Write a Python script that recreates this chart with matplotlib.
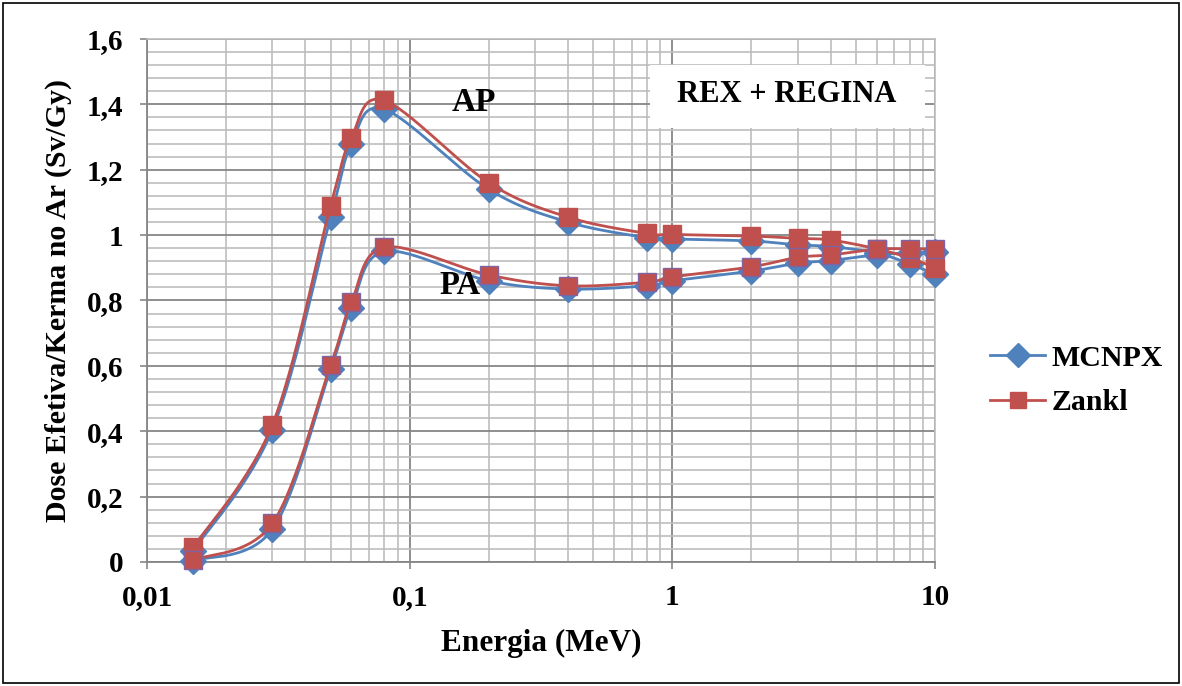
import numpy as np
import matplotlib
matplotlib.use("Agg")
import matplotlib.pyplot as plt
from matplotlib.ticker import FixedLocator, FuncFormatter, NullFormatter
from matplotlib.lines import Line2D
from matplotlib.patches import Rectangle

# Photon energies (MeV)
energy = [0.015, 0.03, 0.05, 0.06, 0.08, 0.2, 0.4, 0.8, 1, 2, 3, 4, 6, 8, 10]

# Effective dose / air kerma (Sv/Gy)
mcnpx_ap = [0.035, 0.405, 1.055, 1.278, 1.385, 1.140, 1.040, 0.992, 0.988,
            0.982, 0.970, 0.965, 0.945, 0.912, 0.880]
zankl_ap = [0.045, 0.420, 1.090, 1.298, 1.412, 1.160, 1.055, 1.005, 1.002,
            0.997, 0.990, 0.985, 0.958, 0.930, 0.900]
mcnpx_pa = [0.004, 0.100, 0.590, 0.778, 0.950, 0.860, 0.835, 0.845, 0.860,
            0.890, 0.914, 0.922, 0.940, 0.945, 0.948]
zankl_pa = [0.006, 0.118, 0.602, 0.795, 0.963, 0.878, 0.845, 0.856, 0.872,
            0.903, 0.932, 0.939, 0.957, 0.958, 0.958]

y_ticks = [0, 0.2, 0.4, 0.6, 0.8, 1.0, 1.2, 1.4, 1.6]
x_ticks = [0.01, 0.1, 1, 10]

BLUE = "#4F81BD"
RED = "#C0504D"
FONT = "Liberation Serif"


def smooth(x, y, n=30):
    """Bezier smoothing (Catmull-Rom control points) in log10(x)-y space."""
    lx = np.log10(np.asarray(x, float))
    yy = np.asarray(y, float)
    P = np.column_stack([lx, yy])
    m = len(P)
    out = []
    t = np.linspace(0, 1, n)[:, None]
    for i in range(m - 1):
        p0 = P[i - 1] if i > 0 else P[i]
        p1 = P[i]
        p2 = P[i + 1]
        p3 = P[i + 2] if i + 2 < m else P[i + 1]
        c1 = p1 + (p2 - p0) / 6.0
        c2 = p2 - (p3 - p1) / 6.0
        seg = ((1 - t) ** 3) * p1 + 3 * ((1 - t) ** 2) * t * c1 \
            + 3 * (1 - t) * t ** 2 * c2 + t ** 3 * p2
        out.append(seg if i == 0 else seg[1:])
    S = np.vstack(out)
    return 10 ** S[:, 0], S[:, 1]


def comma(v, pos):
    return f"{v:g}".replace(".", ",")


plt.rcParams["font.family"] = [FONT, "DejaVu Serif"]
plt.rcParams["font.weight"] = "bold"

fig = plt.figure(figsize=(11.82, 6.86), dpi=100)
fig.patch.set_facecolor("white")
fig.patches.append(Rectangle((0.0025, 0.004), 0.995, 0.992, transform=fig.transFigure,
                             fill=False, edgecolor="black", linewidth=1.2))

ax = fig.add_axes([0.1244, 0.1808, 0.6667, 0.7624])
ax.set_xscale("log")
ax.set_xlim(0.01, 10)
ax.set_ylim(0, 1.6)

# grid
ax.yaxis.set_major_locator(FixedLocator(y_ticks))
ax.yaxis.set_minor_locator(FixedLocator(np.arange(0, 1.6001, 0.04)))
ax.xaxis.set_major_locator(FixedLocator(x_ticks))
minors = [k * 10.0 ** d for d in (-2, -1, 0) for k in range(2, 10)]
ax.xaxis.set_minor_locator(FixedLocator(minors))
ax.xaxis.set_minor_formatter(NullFormatter())
ax.grid(which="major", color="#868686", linewidth=1.3)
ax.grid(which="minor", color="#BDBDBD", linewidth=1.2)
ax.set_axisbelow(True)

for side in ("top", "right"):
    ax.spines[side].set_color("#BDBDBD")
    ax.spines[side].set_linewidth(1.2)
for side in ("left", "bottom"):
    ax.spines[side].set_color("#868686")
    ax.spines[side].set_linewidth(1.3)

ax.tick_params(which="major", direction="out", length=5, color="#868686", width=1.2,
               labelsize=21)
ax.tick_params(axis="y", pad=12)
ax.tick_params(axis="x", pad=11)
ax.tick_params(which="minor", length=0)
ax.yaxis.set_major_formatter(FuncFormatter(comma))
ax.xaxis.set_major_formatter(FuncFormatter(comma))
for lab in ax.get_xticklabels() + ax.get_yticklabels():
    lab.set_fontweight("bold")

# curves
for yvals, col, mk, ms, z in ((mcnpx_ap, BLUE, "D", 13, 3), (mcnpx_pa, BLUE, "D", 13, 3),
                              (zankl_ap, RED, "s", 12.5, 4), (zankl_pa, RED, "s", 12.5, 4)):
    sx, sy = smooth(energy, yvals)
    ax.plot(sx, sy, color=col, linewidth=2.0, zorder=z, clip_on=False)
    edge = "#8064A2" if (yvals is zankl_pa) else col
    ax.plot(energy, yvals, linestyle="none", marker=mk, markersize=ms,
            markerfacecolor=col, markeredgecolor=edge, markeredgewidth=1.0,
            zorder=z + 0.5, clip_on=False)

ax.set_xlabel("Energia (MeV)", fontsize=22.5, fontweight="bold", labelpad=13)
ax.set_ylabel("Dose Efetiva/Kerma no Ar (Sv/Gy)", fontsize=21.5, fontweight="bold",
              labelpad=11)

ax.text(0.175, 1.407, "AP", fontsize=24, fontweight="bold", ha="center", va="center")
ax.text(0.155, 0.847, "PA", fontsize=23.5, fontweight="bold", ha="center", va="center")

# title box
ax.add_patch(Rectangle((0.638, 0.830), 0.349, 0.120, transform=ax.transAxes,
                       facecolor="white", edgecolor="none", zorder=5))
ax.text(0.812, 0.893, "REX + REGINA", transform=ax.transAxes, fontsize=22,
        fontweight="bold", ha="center", va="center", zorder=6)

handles = [Line2D([], [], color=BLUE, linewidth=2.0, marker="D", markersize=12,
                  markerfacecolor=BLUE, markeredgecolor=BLUE),
           Line2D([], [], color=RED, linewidth=2.0, marker="s", markersize=12,
                  markerfacecolor=RED, markeredgecolor=RED)]
fig.legend(handles, ["MCNPX", "Zankl"], loc="center left",
           bbox_to_anchor=(0.8376, 0.4453), frameon=False, borderpad=0,
           borderaxespad=0, handlelength=1.85, handletextpad=0.2, labelspacing=0.6,
           prop={"family": FONT, "weight": "bold", "size": 21.5})

fig.savefig("out.png", dpi=100, facecolor="white")
